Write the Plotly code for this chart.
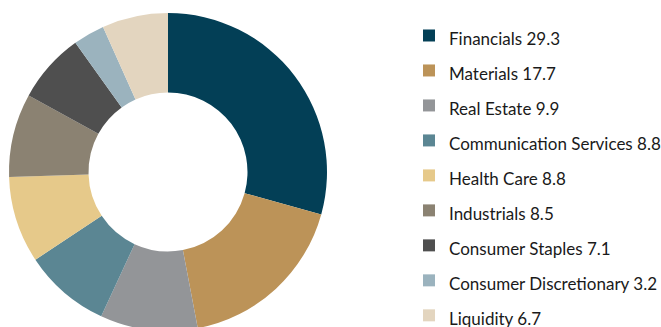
import plotly.graph_objects as go

# Sector weights (%)
sectors = [
    "Financials", "Materials", "Real Estate", "Communication Services",
    "Health Care", "Industrials", "Consumer Staples",
    "Consumer Discretionary", "Liquidity",
]
weights = [29.3, 17.7, 9.9, 8.8, 8.8, 8.5, 7.1, 3.2, 6.7]
colors = [
    "#033f56", "#bc9358", "#939598", "#5b8693", "#e6c98a",
    "#8b8272", "#4f4f4f", "#9bb3be", "#e3d5bf",
]

# Canvas is larger than the visible window; the overflow is hidden so the
# ring and the legend run off the bottom/right edges.
W, H = 700, 350
R = 159          # outer radius, px
CX, CY = 168, 172  # ring centre, px from top-left

legend_labels = [
    f'<span style="font-size:17px">{s} {w}</span>' for s, w in zip(sectors, weights)
]

fig = go.Figure(
    go.Pie(
        labels=legend_labels,
        values=weights,
        hole=0.5,
        sort=False,
        direction="clockwise",
        rotation=0,
        textinfo="none",
        hoverinfo="skip",
        marker=dict(colors=colors, line=dict(width=0)),
        domain=dict(
            x=[(CX - R) / W, (CX + R) / W],
            y=[1 - (CY + R) / H, 1 - (CY - R) / H],
        ),
    )
)

fig.update_layout(
    width=W,
    height=H,
    margin=dict(l=0, r=0, t=0, b=0),
    paper_bgcolor="white",
    plot_bgcolor="white",
    font=dict(family="Lato", color="#1a1a1a"),
    legend=dict(
        x=409 / W,
        xanchor="left",
        y=1 - 13 / H,
        yanchor="top",
        font=dict(size=24.6, family="Lato", color="#1a1a1a"),
        bgcolor="rgba(0,0,0,0)",
        borderwidth=0,
        valign="top",
    ),
    showlegend=True,
)

fig.write_html(
    "out.html",
    post_script="document.documentElement.style.overflow='hidden';document.body.style.overflow='hidden';",
)
